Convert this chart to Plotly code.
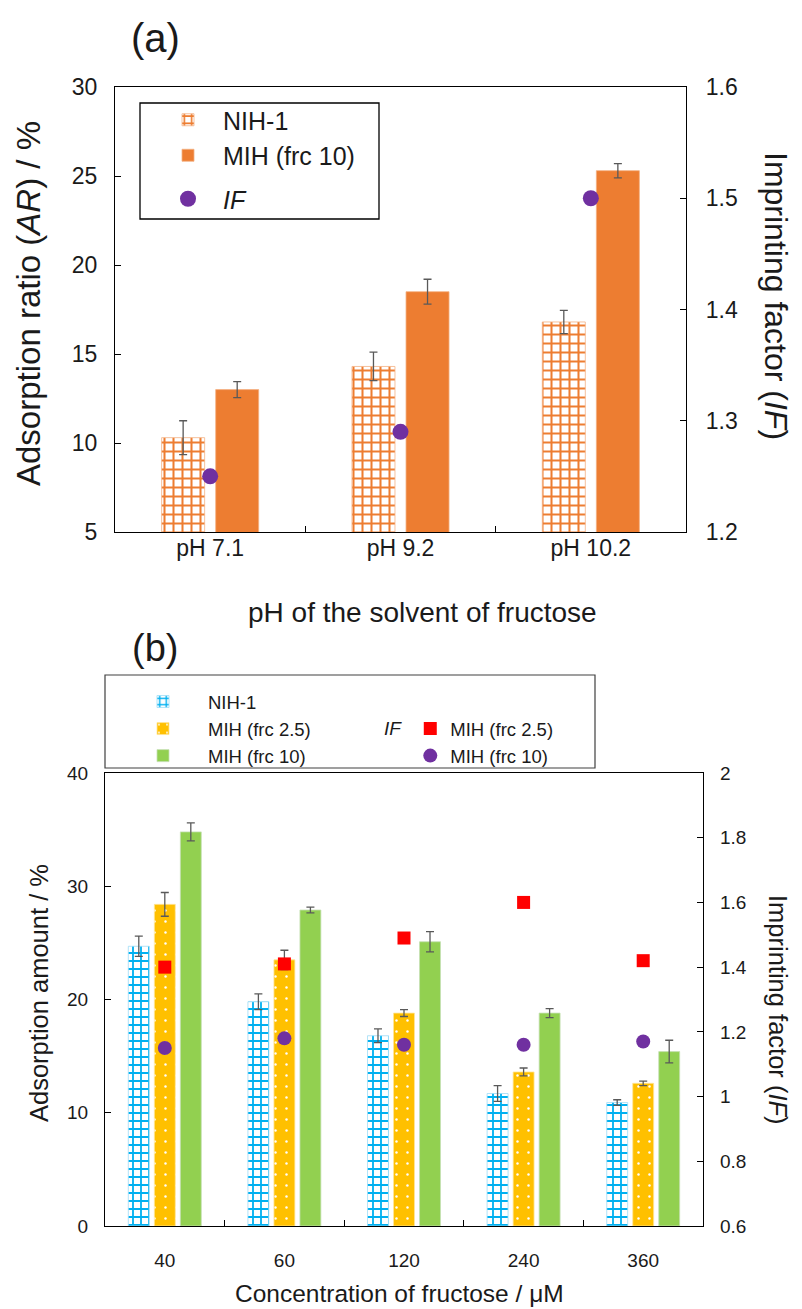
import plotly.graph_objects as go

W, H = 802, 1309
OFF = 8  # page body margin offset
def px(x): return (x - OFF) / W
def py(y): return 1 - (y - OFF) / H

FONT = "Liberation Sans, Arial, sans-serif"

# ---------------- data (a) ----------------
ph_labels = ["pH 7.1", "pH 9.2", "pH 10.2"]
a_nih = [10.3, 14.3, 16.8]
a_nih_err = [0.95, 0.8, 0.65]
a_mih = [13.0, 18.5, 25.3]
a_mih_err = [0.45, 0.7, 0.4]
a_if = [1.25, 1.29, 1.50]

# ---------------- data (b) ----------------
conc_labels = ["40", "60", "120", "240", "360"]
b_nih = [24.7, 19.8, 16.8, 11.7, 10.9]
b_nih_err = [0.9, 0.7, 0.6, 0.7, 0.25]
b_mih25 = [28.4, 23.5, 18.8, 13.6, 12.6]
b_mih25_err = [1.05, 0.85, 0.3, 0.35, 0.2]
b_mih10 = [34.8, 27.9, 25.1, 18.8, 15.4]
b_mih10_err = [0.8, 0.25, 0.9, 0.4, 1.0]
b_if25 = [1.40, 1.41, 1.49, 1.60, 1.42]
b_if10 = [1.15, 1.18, 1.16, 1.16, 1.17]

ORANGE = "#ED7D31"
BLUE = "#00B0F0"
GOLD = "#FFC000"
GREEN = "#92D050"
PURPLE = "#7030A0"
RED = "#FF0000"
ERR = "#595959"
TXT = "#1a1a1a"

def err(arr):
    return dict(type="data", array=arr, color=ERR, thickness=1.3, width=4)

fig = go.Figure()

# ---- panel (a) ----
fig.add_trace(go.Bar(
    x=ph_labels, y=a_nih, name="NIH-1", xaxis="x", yaxis="y",
    width=0.226, offset=-0.255, error_y=err(a_nih_err),
    marker=dict(color="white", line=dict(color="#F4B183", width=0.8),
                pattern=dict(shape="+", fgcolor=ORANGE, bgcolor="white",
                             size=9, solidity=0.4, fillmode="replace")),
    legend="legend", legendgroup="a_bars"))
fig.add_trace(go.Bar(
    x=ph_labels, y=a_mih, name="MIH (frc 10)", xaxis="x", yaxis="y",
    width=0.226, offset=0.029, error_y=err(a_mih_err),
    marker=dict(color=ORANGE, line=dict(color="#F4B183", width=0.8)),
    legend="legend", legendgroup="a_bars"))
fig.add_trace(go.Scatter(
    x=ph_labels, y=a_if, name="<i>IF</i>", xaxis="x", yaxis="y2",
    mode="markers", marker=dict(color=PURPLE, size=16, symbol="circle"),
    legend="legend", legendgroup="a_if"))

# ---- panel (b) ----
fig.add_trace(go.Bar(
    x=conc_labels, y=b_nih, name="NIH-1", xaxis="x2", yaxis="y3",
    width=0.175, offset=-0.305, error_y=err(b_nih_err),
    marker=dict(color="white", line=dict(color="#9DDCF6", width=0.8),
                pattern=dict(shape="+", fgcolor=BLUE, bgcolor="white",
                             size=8, solidity=0.4, fillmode="replace")),
    legend="legend2"))
fig.add_trace(go.Bar(
    x=conc_labels, y=b_mih25, name="MIH (frc 2.5)", xaxis="x2", yaxis="y3",
    width=0.175, offset=-0.0875, error_y=err(b_mih25_err),
    marker=dict(color=GOLD, line=dict(color="#FFE699", width=0.8),
                pattern=dict(shape=".", fgcolor="white", bgcolor=GOLD,
                             size=11, solidity=0.04, fillmode="replace")),
    legend="legend2"))
fig.add_trace(go.Bar(
    x=conc_labels, y=b_mih10, name="MIH (frc 10)", xaxis="x2", yaxis="y3",
    width=0.175, offset=0.13, error_y=err(b_mih10_err),
    marker=dict(color=GREEN, line=dict(color="#C5E0B4", width=0.8)),
    legend="legend2"))
fig.add_trace(go.Scatter(
    x=conc_labels, y=b_if25, name="MIH (frc 2.5)", xaxis="x2", yaxis="y4",
    mode="markers", marker=dict(color=RED, size=13, symbol="square"),
    legend="legend3"))
fig.add_trace(go.Scatter(
    x=conc_labels, y=b_if10, name="MIH (frc 10)", xaxis="x2", yaxis="y4",
    mode="markers", marker=dict(color=PURPLE, size=14, symbol="circle"),
    legend="legend3"))

axis_common = dict(showline=True, linecolor="black", linewidth=1.3,
                   showgrid=False, zeroline=False, ticks="inside",
                   tickcolor="black", ticklen=6, tickwidth=1.3,
                   automargin=False)

fig.update_layout(
    width=W, height=H, autosize=False,
    margin=dict(l=0, r=0, t=0, b=0, pad=0, autoexpand=False),
    paper_bgcolor="white", plot_bgcolor="white",
    font=dict(family=FONT, color=TXT),
    barmode="overlay",
    xaxis=dict(domain=[px(115), px(686)], anchor="y", type="category",
               mirror=True, tickson="boundaries",
               tickfont=dict(size=23, color=TXT), ticklabelstandoff=-5, **axis_common),
    yaxis=dict(domain=[py(532), py(87)], anchor="x", range=[5, 30], dtick=5,
               tickfont=dict(size=23, color=TXT), ticklabelstandoff=12, **axis_common),
    yaxis2=dict(overlaying="y", side="right", anchor="x", range=[1.2, 1.6],
                dtick=0.1, tickformat=".1f", tickfont=dict(size=23, color=TXT),
                ticklabelstandoff=14, **axis_common),
    xaxis2=dict(domain=[px(105), px(703)], anchor="y3", type="category",
                mirror=True, tickson="boundaries",
                tickfont=dict(size=19, color=TXT), ticklabelstandoff=17, **axis_common),
    yaxis3=dict(domain=[py(1226), py(773)], anchor="x2", range=[0, 40],
                dtick=10, tickfont=dict(size=19, color=TXT), ticklabelstandoff=12,
                **axis_common),
    yaxis4=dict(overlaying="y3", side="right", anchor="x2", range=[0.6, 2.0],
                dtick=0.2, tickfont=dict(size=19, color=TXT), ticklabelstandoff=12,
                **axis_common),
    legend=dict(x=px(153), y=py(97), xanchor="left", yanchor="top",
                bgcolor="rgba(0,0,0,0)", borderwidth=0,
                font=dict(size=25, color=TXT), itemwidth=60,
                traceorder="grouped", tracegroupgap=8),
    legend2=dict(x=px(118), y=py(683), xanchor="left", yanchor="top",
                 bgcolor="rgba(0,0,0,0)", borderwidth=0,
                 font=dict(size=18.5, color=TXT), itemwidth=80,
                 traceorder="normal", tracegroupgap=0),
    legend3=dict(x=px(382), y=py(710), xanchor="left", yanchor="top",
                 bgcolor="rgba(0,0,0,0)", borderwidth=0,
                 font=dict(size=18.5, color=TXT), itemwidth=30,
                 title=dict(text="<i>IF</i>", side="left",
                            font=dict(size=19, color=TXT))),
    shapes=[
        dict(type="rect", xref="paper", yref="paper",
             x0=px(140), x1=px(379), y0=py(219), y1=py(103),
             line=dict(color="black", width=1.3)),
        dict(type="rect", xref="paper", yref="paper",
             x0=px(105), x1=px(595), y0=py(768), y1=py(675),
             line=dict(color="#404040", width=1.2)),
    ],
)

ann = [
    dict(text="(a)", x=px(155), y=py(38), size=40, angle=0),
    dict(text="(b)", x=px(155), y=py(648), size=38, angle=0),
    dict(text="Adsorption ratio (<i>AR</i>) / %", x=px(28), y=py(304), size=33, angle=-90),
    dict(text="Imprinting factor (<i>IF</i>)", x=px(776), y=py(296), size=32, angle=90),
    dict(text="pH of the solvent of fructose", x=px(422), y=py(612), size=28, angle=0),
    dict(text="Adsorption amount / %", x=px(39), y=py(993), size=25.5, angle=-90),
    dict(text="Imprinting factor (<i>IF</i>)", x=px(778), y=py(1010), size=25.5, angle=90),
    dict(text="Concentration of fructose / μM", x=px(399), y=py(1293), size=24.5, angle=0),
]
for a in ann:
    fig.add_annotation(text=a["text"], x=a["x"], y=a["y"], xref="paper", yref="paper",
                       showarrow=False, textangle=a["angle"],
                       font=dict(size=a["size"], family=FONT, color=TXT),
                       xanchor="center", yanchor="middle")

fig.write_html("out.html")
